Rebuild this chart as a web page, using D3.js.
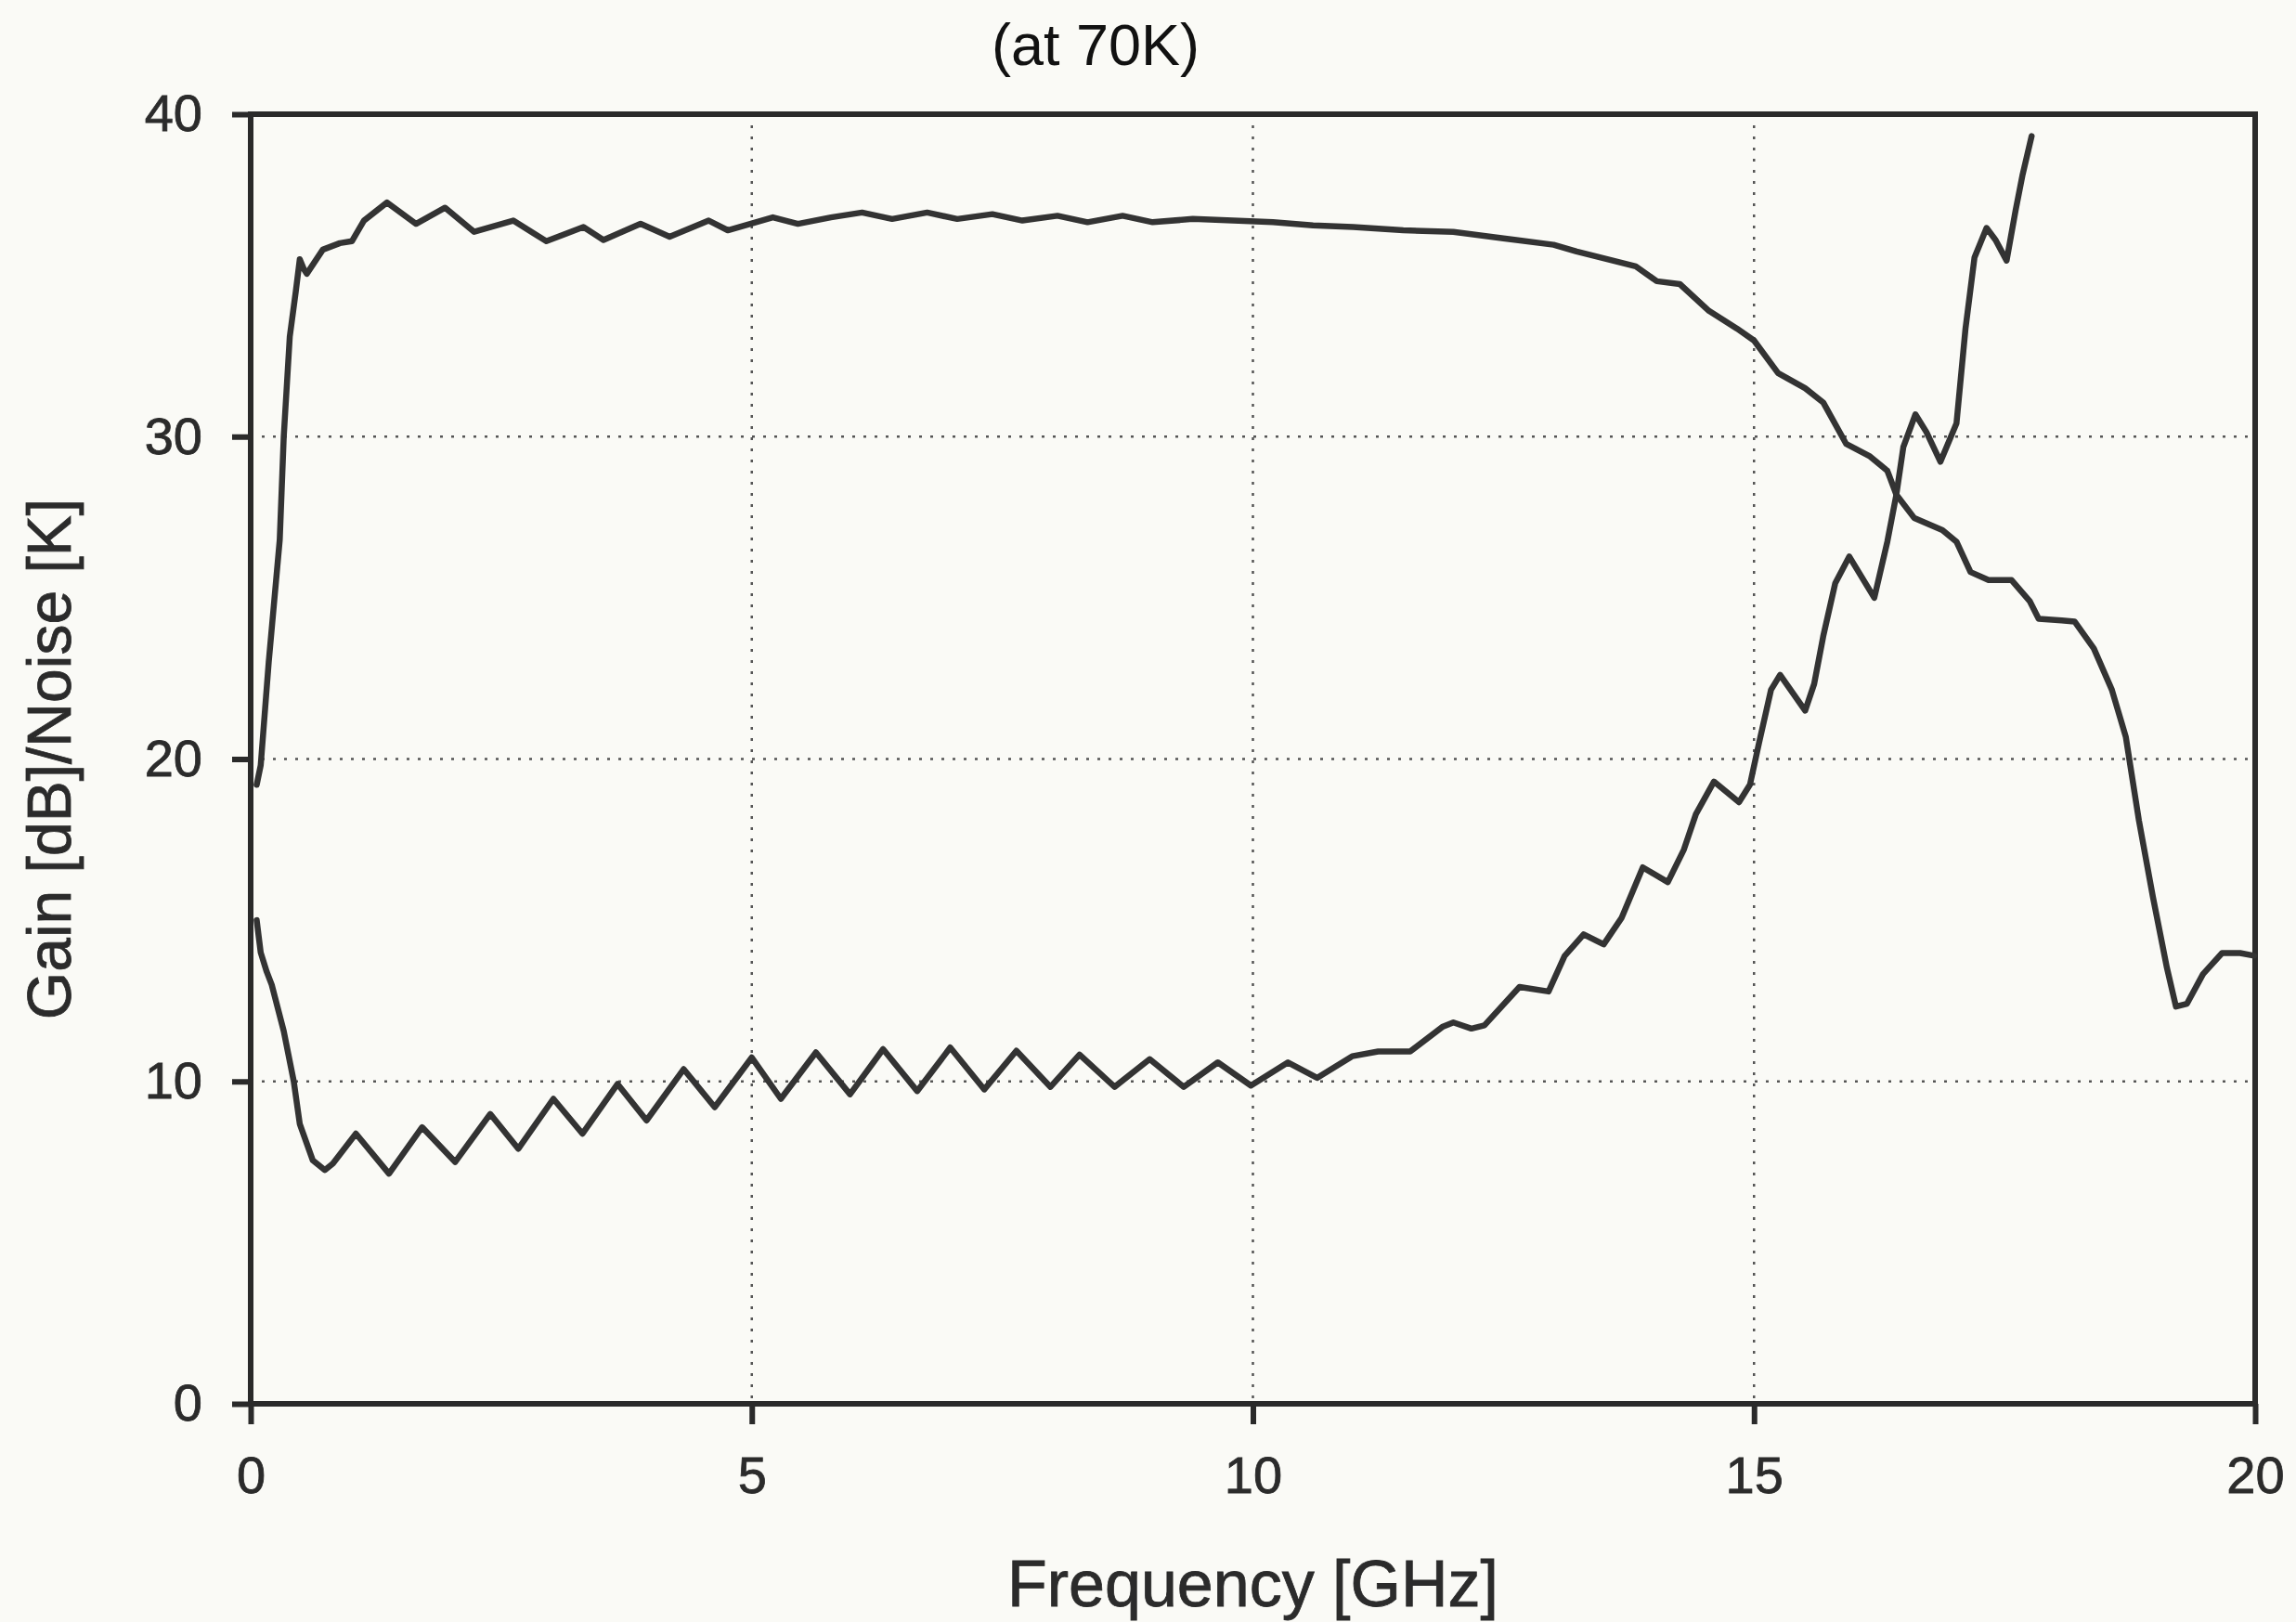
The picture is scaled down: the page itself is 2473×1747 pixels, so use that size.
<!DOCTYPE html>
<html>
<head>
<meta charset="utf-8">
<script src="https://cdn.jsdelivr.net/npm/d3@7"></script>
<style>
  html, body { margin: 0; padding: 0; background: #fafaf6; }
  svg { display: block; }
  text { font-family: "Liberation Sans", Arial, Helvetica, sans-serif; fill: #2b2b2b; }
</style>
</head>
<body>
<svg id="chart" width="2473" height="1747"></svg>
<script>
// Frequency axis [GHz] and value axis (gain in dB / noise in K)
const xTicks = [0, 5, 10, 15, 20];
const yTicks = [0, 10, 20, 30, 40];
const xGrid = [5, 10, 15];
const yGrid = [10, 20, 30];

// Gain [dB] vs frequency [GHz]
const gainCurve = [
  [0.06, 19.2], [0.10, 19.8], [0.18, 23.0], [0.29, 26.8], [0.33, 30.0], [0.39, 33.1],
  [0.45, 34.5], [0.49, 35.5], [0.53, 35.2], [0.56, 35.05], [0.72, 35.8], [0.89, 36.0],
  [1.01, 36.06], [1.13, 36.7], [1.36, 37.26], [1.65, 36.6], [1.94, 37.1], [2.23, 36.35],
  [2.62, 36.7], [2.95, 36.06], [3.32, 36.5], [3.52, 36.1], [3.89, 36.6], [4.18, 36.2],
  [4.57, 36.7], [4.76, 36.4], [5.21, 36.8], [5.46, 36.6], [5.79, 36.8], [6.10, 36.95],
  [6.40, 36.75], [6.75, 36.95], [7.05, 36.75], [7.40, 36.9], [7.70, 36.7], [8.05, 36.85],
  [8.35, 36.65], [8.70, 36.85], [9.00, 36.65], [9.40, 36.75], [9.80, 36.7], [10.20, 36.65],
  [10.60, 36.55], [11.00, 36.5], [11.50, 36.4], [12.00, 36.35], [12.50, 36.15], [13.00, 35.95],
  [13.23, 35.74], [13.59, 35.46], [13.82, 35.28], [14.03, 34.82], [14.26, 34.73], [14.55, 33.9],
  [14.83, 33.35], [15.00, 32.98], [15.24, 31.97], [15.51, 31.5], [15.69, 31.06], [15.92, 29.77],
  [16.15, 29.4], [16.33, 28.94], [16.42, 28.2], [16.60, 27.47], [16.88, 27.1], [17.02, 26.74],
  [17.16, 25.8], [17.34, 25.55], [17.57, 25.55], [17.75, 24.9], [17.84, 24.35], [18.07, 24.3],
  [18.20, 24.26], [18.39, 23.43], [18.57, 22.15], [18.71, 20.68], [18.84, 18.1], [18.98, 15.72],
  [19.12, 13.52], [19.21, 12.32], [19.32, 12.41], [19.48, 13.33], [19.67, 13.98], [19.85, 13.98],
  [19.99, 13.9]
];

// Noise temperature [K] vs frequency [GHz]
const noiseCurve = [
  [0.06, 15.0], [0.10, 14.0], [0.16, 13.4], [0.21, 13.0], [0.33, 11.56], [0.43, 10.0],
  [0.49, 8.68], [0.62, 7.55], [0.74, 7.25], [0.82, 7.45], [1.05, 8.38], [1.38, 7.14],
  [1.71, 8.58], [2.04, 7.5], [2.39, 8.99], [2.67, 7.91], [3.02, 9.46], [3.31, 8.38],
  [3.66, 9.92], [3.95, 8.79], [4.32, 10.38], [4.63, 9.2], [5.00, 10.74], [5.29, 9.46],
  [5.64, 10.9], [5.98, 9.6], [6.31, 11.0], [6.65, 9.7], [6.98, 11.05], [7.32, 9.75],
  [7.64, 10.95], [7.98, 9.83], [8.27, 10.83], [8.62, 9.83], [8.97, 10.69], [9.31, 9.83],
  [9.65, 10.59], [9.98, 9.87], [10.35, 10.59], [10.64, 10.11], [10.99, 10.78], [11.25, 10.93],
  [11.57, 10.93], [11.89, 11.69], [12.00, 11.83], [12.18, 11.64], [12.31, 11.74], [12.66, 12.93],
  [12.95, 12.79], [13.11, 13.89], [13.30, 14.56], [13.50, 14.25], [13.68, 15.08], [13.89, 16.64],
  [14.14, 16.18], [14.30, 17.19], [14.42, 18.29], [14.60, 19.3], [14.85, 18.66], [14.96, 19.21],
  [15.05, 20.5], [15.17, 22.15], [15.26, 22.61], [15.51, 21.5], [15.60, 22.33], [15.69, 23.8],
  [15.81, 25.45], [15.95, 26.28], [16.20, 25.0], [16.33, 26.74], [16.42, 28.2], [16.49, 29.68],
  [16.61, 30.69], [16.72, 30.14], [16.86, 29.22], [17.02, 30.41], [17.11, 33.35], [17.20, 35.56],
  [17.32, 36.47], [17.41, 36.1], [17.52, 35.46], [17.61, 37.02], [17.68, 38.13], [17.77, 39.32]
];

const titleText = "(at 70K)";
const xLabel = "Frequency [GHz]";
const yLabel = "Gain [dB]/Noise [K]";

// Layout
const plot = { left: 270, right: 2429, top: 123, bottom: 1512 };
const ink = "#2a2a2a";

const svg = d3.select("#chart");

const x = d3.scaleLinear().domain([0, 20]).range([plot.left, plot.right]);
const y = d3.scaleLinear().domain([0, 40]).range([plot.bottom, plot.top]);

// Dotted grid
const grid = svg.append("g").attr("class", "grid")
  .attr("stroke", "#555").attr("stroke-width", 2.5)
  .attr("stroke-dasharray", "3,9");
grid.selectAll("line.vx").data(xGrid).join("line")
  .attr("x1", d => x(d)).attr("x2", d => x(d))
  .attr("y1", plot.top).attr("y2", plot.bottom);
grid.selectAll("line.hy").data(yGrid).join("line")
  .attr("x1", plot.left).attr("x2", plot.right)
  .attr("y1", d => y(d)).attr("y2", d => y(d));

// Axes (ticks + labels)
const xAxis = svg.append("g")
  .attr("transform", `translate(0,${plot.bottom})`)
  .call(d3.axisBottom(x).tickValues(xTicks).tickSize(22).tickPadding(34).tickFormat(d3.format("d")));
const yAxis = svg.append("g")
  .attr("transform", `translate(${plot.left},0)`)
  .call(d3.axisLeft(y).tickValues(yTicks).tickSize(20).tickPadding(32).tickFormat(d3.format("d")));

[xAxis, yAxis].forEach(g => {
  g.select(".domain").remove();
  g.selectAll(".tick line").attr("stroke", ink).attr("stroke-width", 6);
  g.selectAll(".tick text")
    .attr("fill", "#2b2b2b")
    .attr("stroke", "#2b2b2b").attr("stroke-width", 0.8)
    .style("font-size", "56px")
    .style("font-family", "'Liberation Sans', Arial, sans-serif");
});

// Plot frame
svg.append("rect")
  .attr("x", plot.left).attr("y", plot.top)
  .attr("width", plot.right - plot.left).attr("height", plot.bottom - plot.top)
  .attr("fill", "none").attr("stroke", ink).attr("stroke-width", 6);

// Curves
const line = d3.line()
  .x(d => x(d[0]))
  .y(d => y(d[1]))
  .curve(d3.curveLinear);

[gainCurve, noiseCurve].forEach(series => {
  svg.append("path").datum(series)
    .attr("d", line)
    .attr("fill", "none").attr("stroke", "#333")
    .attr("stroke-width", 6.5).attr("stroke-linejoin", "round").attr("stroke-linecap", "round");
});

// Title and axis titles
svg.append("text")
  .attr("x", 1180).attr("y", 70)
  .attr("text-anchor", "middle")
  .style("font-size", "63px")
  .style("fill", "#111")
  .text(titleText);

svg.append("text")
  .attr("x", (plot.left + plot.right) / 2).attr("y", 1730)
  .attr("text-anchor", "middle")
  .attr("stroke", "#2b2b2b").attr("stroke-width", 0.8)
  .style("font-size", "70px")
  .text(xLabel);

svg.append("text")
  .attr("transform", `translate(76,${(plot.top + plot.bottom) / 2}) rotate(-90)`)
  .attr("text-anchor", "middle")
  .attr("stroke", "#2b2b2b").attr("stroke-width", 0.8)
  .style("font-size", "66px")
  .text(yLabel);
</script>
</body>
</html>
